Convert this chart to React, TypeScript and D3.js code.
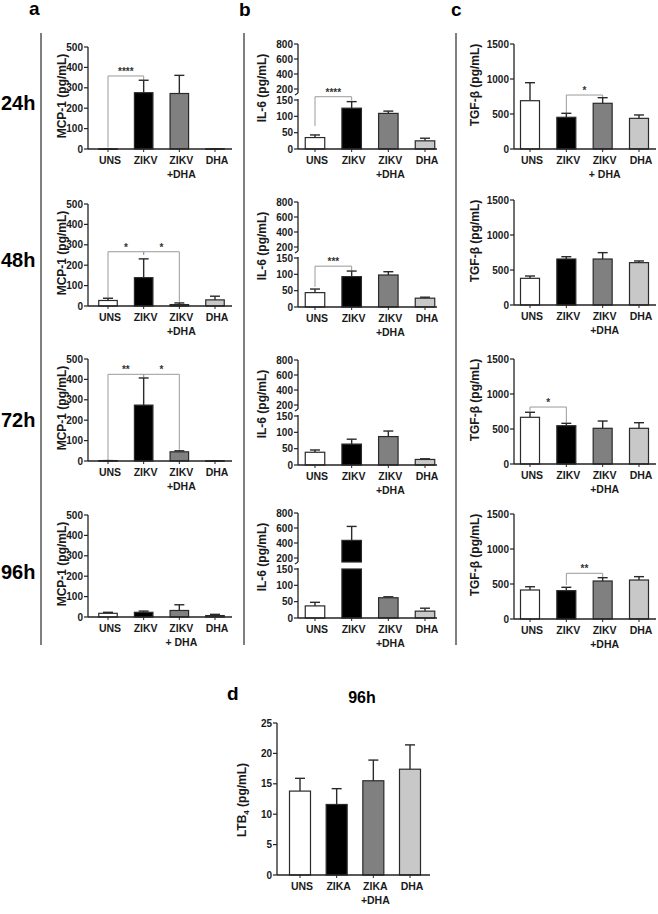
import React from "react";
import * as d3 from "d3";

const FONT = "'Liberation Sans', Arial, Helvetica, sans-serif";

const categories = ["UNS", "ZIKV", "ZIKV+DHA", "DHA"];
const firstLines = ["UNS", "ZIKV", "ZIKV", "DHA"];
const rowLabels = ["24h", "48h", "72h", "96h"];
const secondLineA = ["+DHA", "+DHA", "+DHA", "+ DHA"];
const secondLineB = ["+DHA", "+DHA", "+DHA", "+DHA"];
const secondLineC = ["+ DHA", "+DHA", "+DHA", "+DHA"];

// Panel a: MCP-1 (pg/mL)
const mcp1Means = [
  [1, 276, 272, 1],
  [27, 139, 7, 30],
  [2, 274, 45, 1],
  [18, 23, 32, 7],
];
const mcp1Errs = [
  [0, 61, 89, 0],
  [11, 92, 8, 18],
  [0, 133, 5, 0],
  [5, 6, 28, 6],
];
const mcp1Ticks = [0, 100, 200, 300, 400, 500];

// Panel b: IL-6 (pg/mL), broken axis
const il6Means = [
  [35, 125, 109, 25],
  [44, 93, 98, 27],
  [39, 64, 87, 17],
  [37, 435, 62, 21],
];
const il6Errs = [
  [8, 20, 7, 8],
  [11, 17, 10, 3],
  [7, 15, 17, 2],
  [11, 186, 3, 9],
];
const il6LowTicks = [0, 50, 100, 150];
const il6HighTicks = [200, 400, 600, 800];

// Panel c: TGF-β (pg/mL)
const tgfMeans = [
  [690, 453, 653, 438],
  [381, 657, 657, 605],
  [667, 547, 510, 510],
  [414, 405, 543, 557],
];
const tgfErrs = [
  [257, 57, 80, 48],
  [33, 33, 91, 24],
  [72, 34, 104, 80],
  [47, 48, 47, 48],
];
const tgfTicks = [0, 500, 1000, 1500];

// Panel d: LTB4 at 96h
const ltb4Categories = ["UNS", "ZIKA", "ZIKA+DHA", "DHA"];
const ltb4First = ["UNS", "ZIKA", "ZIKA", "DHA"];
const ltb4Second = ["", "", "+DHA", ""];
const ltb4Means = [13.8, 11.6, 15.5, 17.4];
const ltb4Errs = [2.1, 2.6, 3.4, 4.0];
const ltb4Ticks = [0, 5, 10, 15, 20, 25];

type Bracket = { from: number; to: number; level: number; left: number; right: number; label: string };

const mcp1Brackets: Bracket[][] = [
  [{ from: 0, to: 1, level: 358, left: 8, right: 338, label: "****" }],
  [
    { from: 0, to: 1, level: 266, left: 42, right: 250, label: "*" },
    { from: 1, to: 2, level: 266, left: 250, right: 20, label: "*" },
  ],
  [
    { from: 0, to: 1, level: 425, left: 3, right: 410, label: "**" },
    { from: 1, to: 2, level: 425, left: 410, right: 55, label: "*" },
  ],
  [],
];
const il6Brackets: Bracket[][] = [
  [{ from: 0, to: 1, level: 160, left: 70, right: 148, label: "****" }],
  [{ from: 0, to: 1, level: 125, left: 62, right: 110, label: "***" }],
  [],
  [],
];
const tgfBrackets: Bracket[][] = [
  [{ from: 1, to: 2, level: 771, left: 514, right: 738, label: "*" }],
  [],
  [{ from: 0, to: 1, level: 814, left: 760, right: 590, label: "*" }],
  [{ from: 1, to: 2, level: 653, left: 486, right: 596, label: "**" }],
];

const barFills = ["#ffffff", "#000000", "#808080", "#c8c8c8"];
const barStroke = "#2a2a2a";
const axisColor = "#222";
const bracketColor = "#9a9a9a";
const textColor = "#1a1a1a";
const TICK_FS = 10;
const CAT_FS = 10.5;

function YLabel({ x, y, text }: { x: number; y: number; text: React.ReactNode }) {
  return (
    <text
      transform={`translate(${x},${y}) rotate(-90)`}
      textAnchor="middle"
      fontFamily={FONT}
      fontWeight="bold"
      fontSize={12}
      fill={textColor}
    >
      {text}
    </text>
  );
}

function Ticks({ axisX, scale, ticks }: { axisX: number; scale: (v: number) => number; ticks: number[] }) {
  return (
    <g>
      {ticks.map((t) => (
        <g key={t}>
          <line x1={axisX - 4} x2={axisX} y1={scale(t)} y2={scale(t)} stroke={axisColor} strokeWidth={1.2} />
          <text
            x={axisX - 5}
            y={scale(t) + 3.6}
            textAnchor="end"
            fontFamily={FONT}
            fontWeight="bold"
            fontSize={TICK_FS}
            fill={textColor}
          >
            {t}
          </text>
        </g>
      ))}
    </g>
  );
}

function CatLabels({
  x,
  y0,
  first,
  second,
  cats,
}: {
  x: d3.ScalePoint<string>;
  y0: number;
  first: string[];
  second: string[];
  cats: string[];
}) {
  return (
    <g fontFamily={FONT} fontWeight="bold" fontSize={CAT_FS} fill={textColor} textAnchor="middle">
      {cats.map((c, i) => (
        <g key={c}>
          <line x1={x(c)!} x2={x(c)!} y1={y0} y2={y0 + 3} stroke={axisColor} strokeWidth={1} />
          <text x={x(c)! + 2} y={y0 + 15}>
            {first[i]}
          </text>
          {second[i] ? (
            <text x={x(c)! + 2} y={y0 + 29}>
              {second[i]}
            </text>
          ) : null}
        </g>
      ))}
    </g>
  );
}

function Brackets({
  x,
  y,
  items,
}: {
  x: d3.ScalePoint<string>;
  y: (v: number) => number;
  items: Bracket[];
}) {
  return (
    <g>
      {items.map((b, i) => {
        const x1 = x(categories[b.from])!;
        const x2 = x(categories[b.to])!;
        const yl = y(b.level);
        return (
          <g key={i}>
            <path
              d={`M${x1},${y(b.left)}V${yl}H${x2}V${y(b.right)}`}
              fill="none"
              stroke={bracketColor}
              strokeWidth={1}
            />
            <text
              x={(x1 + x2) / 2}
              y={yl - 1}
              textAnchor="middle"
              fontFamily={FONT}
              fontWeight="bold"
              fontSize={10}
              fill="#333"
            >
              {b.label}
            </text>
          </g>
        );
      })}
    </g>
  );
}

function Bars({
  x,
  y,
  means,
  errs,
  barW,
  cats,
  y0,
}: {
  x: d3.ScalePoint<string>;
  y: (v: number) => number;
  means: number[];
  errs: number[];
  barW: number;
  cats: string[];
  y0: number;
}) {
  return (
    <g>
      {cats.map((c, i) => {
        const cx = x(c)!;
        const top = y(means[i]);
        const et = y(means[i] + errs[i]);
        return (
          <g key={c}>
            <line x1={cx} x2={cx} y1={top} y2={et} stroke={barStroke} strokeWidth={1.4} />
            <line x1={cx - 5} x2={cx + 5} y1={et} y2={et} stroke={barStroke} strokeWidth={1.4} />
            <rect
              x={cx - barW / 2}
              y={top}
              width={barW}
              height={Math.max(0.5, y0 - top)}
              fill={barFills[i]}
              stroke={barStroke}
              strokeWidth={1.2}
            />
          </g>
        );
      })}
    </g>
  );
}

export default function App() {
  // Column a
  const axisA = 88;
  const endA = 232;
  const xA = d3.scalePoint<string>().domain(categories).range([108, 215]);
  const rowsA = [149, 306, 461, 617];

  // Column b
  const axisB = 298;
  const endB = 437;
  const xB = d3.scalePoint<string>().domain(categories).range([315, 425]);
  const rowsB = [149, 307, 465, 618];

  // Column c
  const axisC = 514;
  const endC = 656;
  const xC = d3.scalePoint<string>().domain(categories).range([530, 639]);
  const rowsC = [149, 305, 464, 619];

  // Panel d
  const axisD = 277;
  const endD = 430;
  const xD = d3.scalePoint<string>().domain(ltb4Categories).range([300, 410]);
  const yD = d3.scaleLinear().domain([0, 25]).range([875, 723]);

  return (
    <svg
      width={658}
      height={914}
      style={{ display: "block", position: "absolute", left: 0, top: 0, background: "#fff" }}
    >
      <rect x={0} y={0} width={658} height={914} fill="#fff" />
      {/* panel letters */}
      <g fontFamily={FONT} fontWeight="bold" fontSize={19} fill="#000">
        <text x={29} y={15}>a</text>
        <text x={239} y={16}>b</text>
        <text x={451} y={16}>c</text>
        <text x={227} y={700}>d</text>
      </g>
      {/* separators */}
      {[41, 244, 456].map((sx) => (
        <line key={sx} x1={sx} x2={sx} y1={33} y2={645} stroke="#555" strokeWidth={1.5} />
      ))}
      {/* row labels */}
      {rowLabels.map((l, r) => (
        <text
          key={l}
          x={1}
          y={[110, 267, 427, 579][r]}
          fontFamily={FONT}
          fontWeight="bold"
          fontSize={20}
          fill="#000"
        >
          {l}
        </text>
      ))}

      {/* Column a */}
      {rowsA.map((y0, r) => {
        const y = d3.scaleLinear().domain([0, 500]).range([y0, y0 - 102]);
        return (
          <g key={"a" + r}>
            <YLabel x={66} y={y0 - 53} text="MCP-1 (pg/mL)" />
            <Brackets x={xA} y={y} items={mcp1Brackets[r]} />
            <Bars x={xA} y={y} means={mcp1Means[r]} errs={mcp1Errs[r]} barW={18.5} cats={categories} y0={y0} />
            <line x1={axisA} x2={axisA} y1={y(500)} y2={y0} stroke={axisColor} strokeWidth={1.3} />
            <line x1={axisA} x2={endA} y1={y0} y2={y0} stroke={axisColor} strokeWidth={1.3} />
            <Ticks axisX={axisA} scale={y} ticks={mcp1Ticks} />
            <CatLabels x={xA} y0={y0} first={firstLines} second={["", "", secondLineA[r], ""]} cats={categories} />
          </g>
        );
      })}

      {/* Column b (broken axis) */}
      {rowsB.map((y0, r) => {
        const low = d3.scaleLinear().domain([0, 150]).range([y0, y0 - 49]);
        const high = d3.scaleLinear().domain([200, 800]).range([y0 - 60, y0 - 105]);
        const highBottom = y0 - 56;
        return (
          <g key={"b" + r}>
            <YLabel x={266} y={y0 - 61} text="IL-6 (pg/mL)" />
            <Brackets x={xB} y={low} items={il6Brackets[r]} />
            {categories.map((c, i) => {
              const v = il6Means[r][i];
              const e = il6Errs[r][i];
              const cx = xB(c)!;
              const bw = 19.5;
              if (v <= 150) {
                const top = low(v);
                const et = low(v + e);
                return (
                  <g key={c}>
                    <line x1={cx} x2={cx} y1={top} y2={et} stroke={barStroke} strokeWidth={1.4} />
                    <line x1={cx - 5} x2={cx + 5} y1={et} y2={et} stroke={barStroke} strokeWidth={1.4} />
                    <rect x={cx - bw / 2} y={top} width={bw} height={y0 - top} fill={barFills[i]} stroke={barStroke} strokeWidth={1.2} />
                  </g>
                );
              }
              const top = high(v);
              const et = high(v + e);
              return (
                <g key={c}>
                  <rect x={cx - bw / 2} y={low(150)} width={bw} height={y0 - low(150)} fill={barFills[i]} stroke={barStroke} strokeWidth={1.2} />
                  <line x1={cx} x2={cx} y1={top} y2={et} stroke={barStroke} strokeWidth={1.4} />
                  <line x1={cx - 5} x2={cx + 5} y1={et} y2={et} stroke={barStroke} strokeWidth={1.4} />
                  <rect x={cx - bw / 2} y={top} width={bw} height={highBottom - top} fill={barFills[i]} stroke={barStroke} strokeWidth={1.2} />
                </g>
              );
            })}
            <line x1={axisB} x2={axisB} y1={high(800)} y2={highBottom} stroke={axisColor} strokeWidth={1.3} />
            <path d={`M${axisB},${highBottom}l-3,2`} stroke={axisColor} strokeWidth={1.2} fill="none" />
            <line x1={axisB} x2={axisB} y1={low(150) - 1} y2={y0} stroke={axisColor} strokeWidth={1.3} />
            <line x1={axisB} x2={endB} y1={y0} y2={y0} stroke={axisColor} strokeWidth={1.3} />
            <Ticks axisX={axisB} scale={low} ticks={il6LowTicks} />
            <Ticks axisX={axisB} scale={high} ticks={il6HighTicks} />
            <CatLabels x={xB} y0={y0} first={firstLines} second={["", "", secondLineB[r], ""]} cats={categories} />
          </g>
        );
      })}

      {/* Column c */}
      {rowsC.map((y0, r) => {
        const y = d3.scaleLinear().domain([0, 1500]).range([y0, y0 - 105]);
        return (
          <g key={"c" + r}>
            <YLabel x={479} y={y0 - 64} text="TGF-β (pg/mL)" />
            <Brackets x={xC} y={y} items={tgfBrackets[r]} />
            <Bars x={xC} y={y} means={tgfMeans[r]} errs={tgfErrs[r]} barW={19} cats={categories} y0={y0} />
            <line x1={axisC} x2={axisC} y1={y(1500)} y2={y0} stroke={axisColor} strokeWidth={1.3} />
            <line x1={axisC} x2={endC} y1={y0} y2={y0} stroke={axisColor} strokeWidth={1.3} />
            <Ticks axisX={axisC} scale={y} ticks={tgfTicks} />
            <CatLabels x={xC} y0={y0} first={firstLines} second={["", "", secondLineC[r], ""]} cats={categories} />
          </g>
        );
      })}

      {/* Panel d */}
      <text x={362} y={703} textAnchor="middle" fontFamily={FONT} fontWeight="bold" fontSize={16} fill="#000">
        96h
      </text>
      <YLabel
        x={246}
        y={800}
        text={
          <>
            LTB
            <tspan fontSize={8} dy={3}>4</tspan>
            <tspan dy={-3}> (pg/mL)</tspan>
          </>
        }
      />
      <Bars x={xD} y={yD} means={ltb4Means} errs={ltb4Errs} barW={21} cats={ltb4Categories} y0={yD(0)} />
      <line x1={axisD} x2={axisD} y1={yD(25)} y2={yD(0)} stroke={axisColor} strokeWidth={1.3} />
      <line x1={axisD} x2={endD} y1={yD(0)} y2={yD(0)} stroke={axisColor} strokeWidth={1.3} />
      <Ticks axisX={axisD} scale={yD} ticks={ltb4Ticks} />
      <CatLabels x={xD} y0={yD(0)} first={ltb4First} second={ltb4Second} cats={ltb4Categories} />
    </svg>
  );
}
